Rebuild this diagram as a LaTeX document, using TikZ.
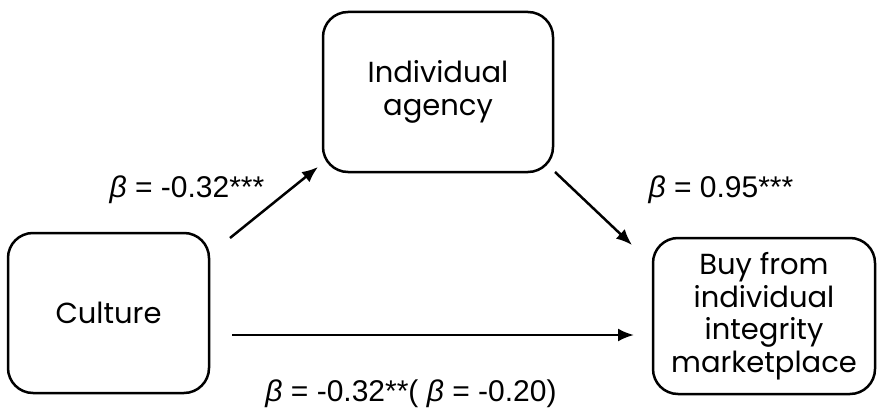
\documentclass[tikz,border=0pt]{standalone}
\usepackage{fontspec}
\setmainfont{Liberation Sans}
\newfontfamily\boxfont{Poppins}
\usetikzlibrary{arrows.meta}
\begin{document}
\begin{tikzpicture}[x=1pt,y=-1pt,line width=2.5pt,>={Latex[length=16pt,width=13pt]}]
        \useasboundingbox (0,0) rectangle (878,412);
        \tikzstyle{every node}=[draw,rounded corners=25pt,align=center,
          font=\boxfont\fontsize{29}{32.5}\selectfont,inner sep=0pt];
        \tikzstyle{coef}=[draw=none,font=\fontsize{30}{34}\selectfont];
        \node[minimum width=201pt,minimum height=160pt] (culture) at (108.5,313) {Culture};
        \node[minimum width=230pt,minimum height=160pt] (agency) at (438,92) {Individual\\agency};
        \node[minimum width=222pt,minimum height=156pt] (buy) at (764,316) {Buy from\\individual\\integrity\\marketplace};
        \node[coef] (a) at (187,190) {\textit{β} = -0.32***};
        \node[coef] (b) at (721,190) {\textit{β} = 0.95***};
        \node[coef] (c) at (411,394) {\textit{β} = -0.32**( \textit{β} = -0.20)};
        \coordinate (ca) at (230,238);
        \coordinate (ac) at (318,167);
        \coordinate (ab) at (555,172);
        \coordinate (ba) at (632,245);
        \coordinate (cb) at (232,335);
        \coordinate (bc) at (634,335);
        \draw[->] (ca) -- (ac);
        \draw[->] (ab) -- (ba);
        \draw[->] (cb) -- (bc);
      \end{tikzpicture}
\end{document}
